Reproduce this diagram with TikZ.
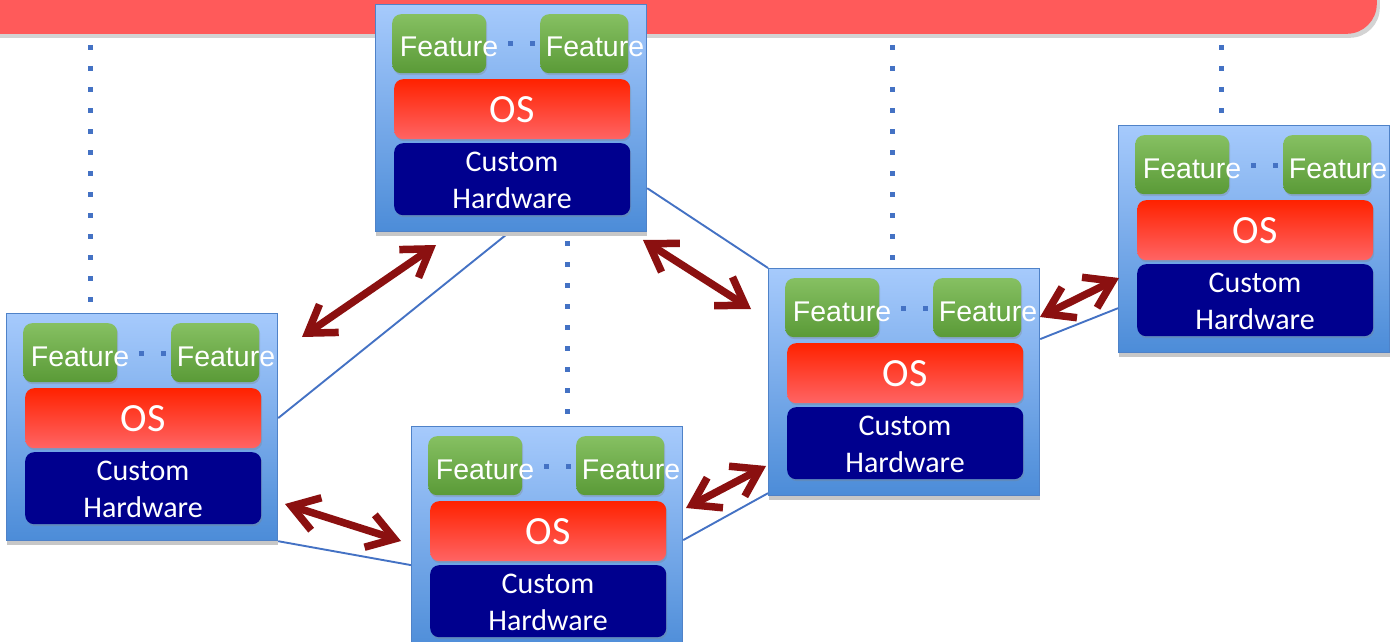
\documentclass[tikz,border=0pt]{standalone}
\usepackage{fontspec}
\newfontfamily\featfont{Liberation Sans}
\newfontfamily\calfont{Carlito}
\usetikzlibrary{arrows.meta,shadows,calc}
\pgfdeclarelayer{back}
\pgfdeclarelayer{links}
\pgfsetlayers{back,links,main}

\definecolor{barred}{HTML}{FF5A5A}
\definecolor{boxtop}{HTML}{A6CAFC}
\definecolor{boxmid}{HTML}{93BCF4}
\definecolor{boxbot}{HTML}{4C8CD8}
\definecolor{boxedge}{HTML}{4F82C8}
\definecolor{greentop}{HTML}{86C062}
\definecolor{greenbot}{HTML}{5A9A37}
\definecolor{ostop}{HTML}{FF2200}
\definecolor{osbot}{HTML}{FF6464}
\definecolor{navy}{HTML}{00008E}
\definecolor{linkblue}{HTML}{4472C4}
\definecolor{arrowred}{HTML}{8B1010}

\tikzset{
  outerbox/.style={draw=boxedge, line width=1.2pt, anchor=north west,
    minimum width=271pt, minimum height=227pt, inner sep=0pt,
    top color=boxtop, middle color=boxmid, bottom color=boxbot,
    drop shadow={fill=black!22, opacity=1, shadow xshift=0pt, shadow yshift=-4pt}},
  featbox/.style={anchor=north west, minimum height=59pt, inner sep=0pt,
    rounded corners=9pt, top color=greentop, bottom color=greenbot,
    drop shadow={opacity=0.3, shadow xshift=1pt, shadow yshift=-2pt}},
  osbox/.style={anchor=north west, minimum width=236pt, minimum height=60pt,
    inner sep=0pt, rounded corners=9pt, top color=ostop, bottom color=osbot,
    text=white, font=\calfont\fontsize{40}{48}\selectfont,
    drop shadow={opacity=0.3, shadow xshift=1pt, shadow yshift=-2pt}},
  hwbox/.style={anchor=north west, minimum width=236pt, minimum height=72pt,
    inner sep=0pt, rounded corners=9pt, fill=navy,
    drop shadow={opacity=0.3, shadow xshift=1pt, shadow yshift=-2pt}},
  feattext/.style={anchor=base, inner sep=0pt, text=white,
    font=\featfont\fontsize{28.5}{34}\selectfont},
  hwtext/.style={anchor=north, inner sep=0pt, text=white, align=center,
    font=\calfont\fontsize{30}{37}\selectfont},
  link/.style={draw=linkblue, line width=1.9pt},
  dotline/.style={draw=linkblue, line width=5pt, dash pattern=on 5pt off 16pt},
  twoway/.style={draw=arrowred, line width=7.5pt,
    {Straight Barb[length=26pt,width=34pt]}-{Straight Barb[length=26pt,width=34pt]}},
}

% one device: feature tiles, OS layer and custom hardware layer
\newcommand\devicebox[3]{%
  \begin{scope}[shift={(#2,#3)}]
    \node[outerbox] (#1) at (0,0) {};
    \node[featbox, minimum width=94pt] (#1-g1) at (17,10) {};
    \node[featbox, minimum width=88pt] (#1-g2) at (165,10) {};
    \fill[linkblue] (132.5,37.5) rectangle ++(5,5);
    \fill[linkblue] (154.5,37.5) rectangle ++(5,5);
    \node[feattext] (#1-t1) at (74,53) {Feature};
    \node[feattext] (#1-t2) at (220,53) {Feature};
    \node[osbox] (#1-os) at (19,75) {OS};
    \node[hwbox] (#1-hw) at (19,139) {};
    \node[hwtext] (#1-hwt) at (137,148) {Custom\\Hardware};
  \end{scope}}

\begin{document}
\begin{tikzpicture}[x=1pt,y=-1pt]
\useasboundingbox (0,0) rectangle (1393,642);
\clip (0,0) rectangle (1393,642);

% top banner
\begin{pgfonlayer}{back}
  \node[fill=barred, rounded corners=30pt, anchor=south east,
    minimum width=1500pt, minimum height=100pt, inner sep=0pt,
    drop shadow={opacity=0.35, shadow xshift=3pt, shadow yshift=-4pt}] (bar) at (1377,34) {};
\end{pgfonlayer}

% devices
\devicebox{A}{375}{4}
\devicebox{B}{6}{313}
\devicebox{C}{411}{426}
\devicebox{D}{768}{268}
\devicebox{E}{1118}{125}

% network links and dotted drops from the banner
\begin{pgfonlayer}{links}
  \draw[link] ($(A.south)+(-3,1)$) -- ($(B.east)+(0,-9)$);
  \draw[link] ($(A.south east)+(0,-44)$) -- (D.north west);
  \draw[link] (B.south east) -- ($(C.west)+(0,25)$);
  \draw[link] (C.east) -- ($(D.south west)+(0,-3)$);
  \draw[link] ($(D.east)+(0,-43)$) -- ($(E.south west)+(0,-45)$);

  \draw[dotline] ($(bar.south -| B.north west)+(84,11)$) -- ($(B.north west)+(84,-8)$);
  \draw[dotline] ($(A.south west)+(192,9)$) -- ($(C.north west)+(156,-11)$);
  \draw[dotline] ($(bar.south -| D.north west)+(124,11)$) -- ($(D.north west)+(124,-8)$);
  \draw[dotline] ($(bar.south -| E.north west)+(103,11)$) -- ($(E.north west)+(103,-10)$);
\end{pgfonlayer}

% two-way exchanges between neighbouring devices
\coordinate (ab1) at (302,337);  \coordinate (ab2) at (436,245);
\coordinate (ad1) at (643,240);  \coordinate (ad2) at (751,309);
\coordinate (bc1) at (285,504);  \coordinate (bc2) at (401,541);
\coordinate (cd1) at (686,508);  \coordinate (cd2) at (766,466);
\coordinate (de1) at (1040,317); \coordinate (de2) at (1119,278);
\draw[twoway] (ab1) -- (ab2);
\draw[twoway] (ad1) -- (ad2);
\draw[twoway] (bc1) -- (bc2);
\draw[twoway] (cd1) -- (cd2);
\draw[twoway] (de1) -- (de2);
\end{tikzpicture}
\end{document}
